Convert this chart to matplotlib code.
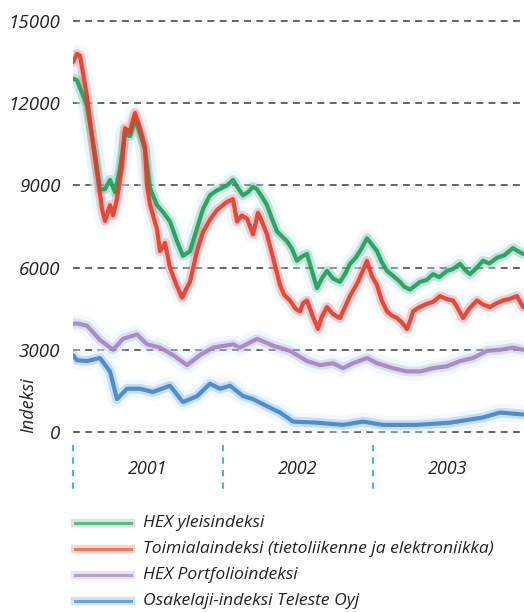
import matplotlib
matplotlib.use("Agg")
import matplotlib.pyplot as plt
from matplotlib.lines import Line2D
import numpy as np

plt.rcParams['font.family'] = ['Open Sans', 'DejaVu Sans']

## months since Jan 2001 and index values
hex_months = [0.0, 0.32, 1.12, 1.76, 2.16, 2.56, 2.96, 3.36, 3.76, 4.16, 4.56, 4.96,
              5.36, 5.76, 6.16, 6.72, 7.2, 7.76, 8.32, 8.8, 9.36, 9.92, 10.4, 10.96,
              11.52, 12.32, 12.8, 13.2, 13.6, 14.0, 14.4, 14.72, 15.1, 15.52, 15.9,
              16.32, 16.7, 17.12, 17.5, 17.92, 18.3, 18.72, 19.1, 19.52, 19.9, 20.32,
              20.8, 21.36, 21.8, 22.16, 22.6, 22.96, 23.2, 23.52, 23.9, 24.32, 24.7,
              25.12, 25.6, 26.16, 26.5, 26.96, 27.4, 27.76, 28.3, 28.8, 29.3, 29.92,
              30.4, 30.96, 31.4, 31.76, 32.3, 32.8, 33.3, 33.92, 34.5, 35.2, 35.6, 36.0]
hex_vals = [12900, 12840, 11900, 10150, 8860, 8860, 9200, 8750, 9600, 10900, 10800, 11400,
            10900, 10300, 8900, 8280, 8030, 7680, 6960, 6430, 6600, 7430, 8140, 8640,
            8820, 9000, 9200, 8900, 8640, 8750, 8950, 8860, 8600, 8280, 7800,
            7320, 7150, 6960, 6700, 6250, 6400, 6500, 5900, 5250, 5600, 5880,
            5600, 5480, 5800, 6140, 6350, 6600, 6800, 7070, 6850, 6600, 6200,
            5880, 5700, 5480, 5300, 5200, 5350, 5480, 5550, 5760, 5650, 5880,
            5950, 6140, 5900, 5760, 6000, 6250, 6150, 6360, 6450, 6710, 6600, 6500]

tele_months = [0.0, 0.32, 0.56, 1.12, 1.6, 2.0, 2.32, 2.56, 2.96, 3.2, 3.52, 3.92, 4.16,
               4.56, 4.96, 5.36, 5.76, 5.92, 6.16, 6.72, 6.96, 7.36, 7.76, 8.24, 8.72,
               9.04, 9.36, 9.92, 10.4, 10.96, 11.52, 12.32, 12.8, 13.12, 13.5, 13.92,
               14.4, 14.8, 15.1, 15.52, 16.0, 16.56, 16.9, 17.36, 17.8, 18.16, 18.4,
               18.72, 19.2, 19.6, 19.9, 20.32, 20.8, 21.36, 21.8, 22.16, 22.8, 23.2,
               23.52, 23.9, 24.32, 24.7, 25.12, 25.5, 25.92, 26.3, 26.72, 27.0, 27.2,
               27.7, 28.32, 28.8, 29.36, 29.9, 30.4, 30.8, 31.2, 31.7, 32.32, 32.8,
               33.36, 33.9, 34.4, 34.9, 35.52, 36.0]
tele_vals = [13500, 13800, 13740, 12240, 10500, 9210, 8140, 7700, 8280, 7900, 8500, 9700, 11090,
             10950, 11650, 11090, 10400, 9000, 8300, 7400, 6600, 6900, 6000, 5400, 4900,
             5200, 5480, 6600, 7300, 7750, 8100, 8400, 8500, 7680, 7900, 7790,
             7210, 8000, 7700, 7210, 6360, 5360, 5000, 4800, 4500, 4400, 4700,
             4800, 4200, 3760, 4200, 4560, 4300, 4160, 4600, 4960, 5480, 5900,
             6250, 5700, 5360, 4800, 4400, 4250, 4160, 4000, 3760, 4100, 4400,
             4550, 4680, 4750, 4960, 4850, 4800, 4500, 4160, 4500, 4800, 4650,
             4560, 4700, 4800, 4850, 4960, 4560]

port_months = [0, 0.32, 1.12, 2.16, 3.2, 4.0, 5.12, 5.92, 6.96, 8.0, 9.12, 10.16, 11.2,
               12.8, 13.36, 14.72, 16.0, 17.36, 18.72, 19.76, 20.8, 21.6, 22.4, 23.52,
               24.32, 25.6, 26.72, 27.76, 28.8, 29.92, 30.96, 32.0, 33.12, 34.16, 35.2, 36.0]
port_vals = [3950, 3960, 3880, 3360, 3000, 3400, 3560, 3200, 3080, 2810, 2440, 2810, 3080,
             3200, 3080, 3400, 3150, 2960, 2590, 2440, 2510, 2330, 2510, 2700,
             2510, 2330, 2210, 2210, 2330, 2400, 2590, 2700, 2960, 3000, 3080, 3000]

osake_months = [0, 0.32, 1.12, 2.16, 2.96, 3.52, 4.32, 5.36, 6.4, 7.76, 8.8, 9.92, 10.96,
                11.76, 12.56, 13.6, 14.4, 15.52, 16.56, 17.6, 19.52, 21.6, 23.2, 24.8,
                27.52, 30.16, 32.8, 34.16, 36.0]
osake_vals = [2800, 2620, 2590, 2700, 2210, 1200, 1580, 1580, 1460, 1690, 1090, 1310, 1760,
              1580, 1690, 1310, 1200, 940, 710, 380, 340, 260, 380, 260,
              260, 340, 530, 710, 640]

labels = ["HEX yleisindeksi",
          "Toimialaindeksi (tietoliikenne ja elektroniikka)",
          "HEX Portfolioindeksi",
          "Osakelaji-indeksi Teleste Oyj"]
colors = ["#1e9e5c", "#e6392a", "#a285c2", "#3f86cc"]
legend_colors = ["#5dbb7e", "#ef7a5a", "#b9a0d2", "#6aa3dc"]

yticks = [0, 3000, 6000, 9000, 12000, 15000]
years = ["2001", "2002", "2003"]

fig = plt.figure(figsize=(5.24, 6.12), dpi=100)
ax = fig.add_axes([73/524, (612-500)/612, 451/524, 485/612])

px = 15000/411.0
ax.set_ylim(-68*px, 15000 + 6*px)
ax.set_xlim(0, 36.08)

for v in yticks:
    ax.axhline(v, color="#3a3a3a", lw=1.1, dashes=(4.5, 3.5), zorder=1)

series = [(hex_months, hex_vals), (tele_months, tele_vals),
          (port_months, port_vals), (osake_months, osake_vals)]
for (m, v), c in zip(series, colors):
    ax.plot(m, v, color="#d6ecf7", lw=13, alpha=0.35, solid_capstyle="round", zorder=2)
    ax.plot(m, v, color=c, lw=7, alpha=0.22, solid_capstyle="round", zorder=3)
    ax.plot(m, v, color=c, lw=3.0, alpha=0.9, solid_capstyle="round", zorder=4)

ax.set_yticks(yticks)
ax.set_yticklabels([str(t) for t in yticks], fontsize=13.5, style="italic", color="#222222")
ax.tick_params(axis="y", length=0, pad=9)
ax.set_xticks([])
for s in ax.spines.values():
    s.set_visible(False)

ax.vlines([0, 12, 24], -475, -2260, colors="#3db8ea", lw=1.5,
          linestyles=(0, (3, 3)), clip_on=False)
for i, y in enumerate(years):
    ax.text(6 + 12*i, -1360, y, ha="center", va="center", fontsize=13,
            style="italic", color="#222222")

fig.text(28/524, 1 - 405/612, "Indeksi", rotation=90, ha="center", va="center",
         fontsize=13, style="italic", color="#222222")

for i, (lab, c) in enumerate(zip(labels, legend_colors)):
    yy = 1 - (523 + 26*i)/612
    fig.add_artist(Line2D([75/524, 131/524], [yy, yy], transform=fig.transFigure,
                          color=c, lw=6, alpha=0.3))
    fig.add_artist(Line2D([75/524, 131/524], [yy, yy], transform=fig.transFigure,
                          color=c, lw=2.2))
    fig.text(143/524, yy, lab, ha="left", va="center", fontsize=12.6,
             style="italic", color="#222222")

fig.savefig("out.png", dpi=100)
